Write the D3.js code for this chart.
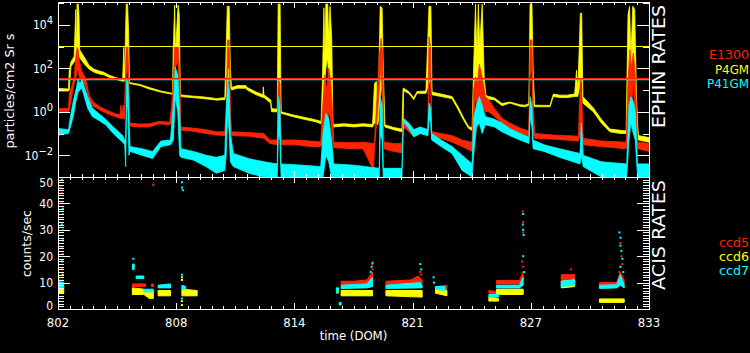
<!DOCTYPE html>
<html>
<head>
<meta charset="utf-8">
<script src="https://cdn.jsdelivr.net/npm/d3@7"></script>
<style>
body {margin: 0; background: #000;}
svg {display: block; background: #000;}
text {font-family: "DejaVu Sans Condensed", "DejaVu Sans", sans-serif; font-weight: 200; fill: #fff;}
</style>
</head>
<body>
<svg class="chart"></svg>
<script>

// EPHIN rates, [day, low, high] of the noisy band
var p4gm = [
  [802.0, 9, 12], [802.55, 9, 11], [802.59, 10, 80], [802.68, 120, 200], [802.85, 200, 350],
  [802.93, 250, 5e4], [802.97, 250, 400], [803.0, 400, 9e4], [803.06, 400, 9e4], [803.1, 300, 3e4], [803.14, 300, 700],
  [803.4, 150, 300], [803.64, 90, 130], [803.9, 65, 90], [804.17, 55, 75], [804.4, 50, 65],
  [804.69, 38, 48], [805.0, 32, 38], [805.39, 25, 29], [805.45, 26, 900], [805.48, 25, 29],
  [805.58, 100, 9e4], [805.65, 300, 9e4], [805.7, 50, 5000], [805.75, 20, 22], [806.3, 16, 18],
  [806.79, 11, 13], [807.4, 8, 9], [808.0, 6.3, 7], [808.05, 8, 1000], [808.12, 500, 8e4],
  [808.16, 200, 500], [808.3, 300, 8e4], [808.36, 50, 3e4], [808.42, 5, 6], [809.0, 4.5, 5.3], [809.66, 4, 4.8],
  [810.36, 3.4, 4], [810.45, 3.5, 4.2], [810.75, 3.6, 4.4], [810.88, 20, 7e4], [810.98, 30, 7e4],
  [811.04, 14, 100], [811.1, 10, 13], [811.41, 12, 16], [811.85, 12, 16], [811.93, 10, 13],
  [812.4, 6, 8], [812.75, 4.5, 6], [812.77, 4.5, 14], [812.8, 4.5, 6], [813.16, 2.5, 3.5],
  [813.2, 1.0, 1.4], [813.5, 1.0, 1.3], [813.55, 10, 9e4], [813.65, 30, 9e4], [813.7, 0.85, 1.0],
  [814.3, 0.6, 0.72], [814.9, 0.45, 0.56], [815.5, 0.35, 0.43], [815.8, 0.28, 0.36], [815.87, 1, 30],
  [815.95, 30, 6e4], [816.0, 10, 300], [816.05, 100, 9e4], [816.15, 300, 9e4], [816.2, 20, 2000], [816.27, 50, 7e4],
  [816.36, 2, 2000], [816.42, 0.2, 0.26], [817.0, 0.22, 0.28], [817.53, 0.2, 0.26], [818.0, 0.22, 0.28],
  [818.5, 0.2, 0.26], [818.6, 0.3, 20], [818.7, 0.3, 25], [818.78, 0.25, 0.35], [818.9, 5, 7e4], [819.0, 20, 6e4],
  [819.06, 0.3, 100], [819.15, 0.2, 0.25], [819.6, 0.15, 0.19], [820.04, 0.12, 0.16], [820.1, 0.15, 12],
  [820.13, 9, 12], [820.4, 7, 8.5], [820.66, 3.6, 4.4], [820.83, 7, 8.5], [821.3, 7, 9],
  [821.46, 20, 7e4], [821.56, 30, 7e4], [821.62, 6, 8], [822.1, 5, 6.5], [822.67, 4, 5],
  [823.0, 1.2, 1.6], [823.3, 0.38, 0.48], [823.54, 0.17, 0.21], [823.72, 0.14, 0.18], [823.8, 1, 100],
  [823.9, 30, 9e4], [823.97, 20, 400], [824.05, 30, 9e4], [824.12, 20, 1000], [824.25, 30, 9e4],
  [824.36, 15, 30], [824.45, 4, 5.5], [824.9, 3.5, 4.3], [825.29, 1.9, 2.4], [825.7, 2.5, 2.8],
  [826.23, 1.8, 2.1], [826.5, 1.7, 2.0], [826.7, 2, 2.4], [826.76, 100, 9e4], [826.86, 300, 9e4],
  [826.92, 2, 100], [827.0, 1.7, 2.0], [827.81, 1.7, 1.95], [827.98, 5, 6.5], [828.33, 4.5, 5.8],
  [828.7, 4.5, 5.8], [829.1, 5, 6.5], [829.2, 5, 80], [829.26, 5, 6.5], [829.4, 20, 3.4e4],
  [829.47, 50, 3.4e4], [829.53, 2.5, 5], [830.08, 1.0, 1.5], [830.5, 0.3, 0.45], [830.95, 0.12, 0.16],
  [831.5, 0.1, 0.14], [831.8, 0.1, 0.13], [831.9, 1, 3e4], [831.98, 30, 7e4], [832.05, 10, 300],
  [832.15, 50, 7e4], [832.25, 30, 5e4], [832.35, 0.5, 3], [832.44, 0.05, 0.08], [833.0, 0.04, 0.065]
];

var e1300 = [
  [802.0, 1.0, 1.4], [802.55, 1.0, 1.4], [802.6, 1.2, 7], [802.75, 7, 18], [802.85, 20, 40],
  [802.93, 30, 300], [803.0, 100, 900], [803.06, 60, 700], [803.12, 40, 200], [803.25, 25, 70],
  [803.45, 15, 35], [803.64, 3, 5.5], [803.85, 1.8, 2.8], [804.2, 1.2, 1.7], [804.6, 0.8, 1.15],
  [805.0, 0.6, 0.82], [805.25, 0.5, 0.72], [805.3, 0.5, 2.0], [805.35, 0.5, 0.7], [805.42, 0.5, 2.0],
  [805.48, 0.45, 0.68], [805.58, 50, 1000], [805.66, 100, 1000], [805.72, 0.5, 30], [805.78, 0.22, 0.3],
  [806.3, 0.2, 0.27], [806.79, 0.2, 0.28], [807.3, 0.28, 0.36], [807.85, 0.25, 0.33], [807.95, 0.3, 1.5],
  [808.05, 1, 30], [808.12, 100, 1000], [808.3, 200, 1000], [808.38, 1, 100], [808.45, 0.14, 0.2],
  [809.0, 0.13, 0.18], [809.76, 0.1, 0.15], [810.3, 0.085, 0.12], [810.75, 0.08, 0.12], [810.82, 0.08, 1],
  [810.9, 100, 2000], [810.98, 100, 2000], [811.04, 0.1, 2], [811.1, 0.08, 0.12], [812.0, 0.075, 0.11],
  [812.8, 0.06, 0.1], [813.1, 0.035, 0.05], [813.5, 0.03, 0.05], [813.56, 5, 30], [813.64, 1, 20],
  [813.7, 0.03, 0.05], [814.5, 0.03, 0.05], [815.2, 0.025, 0.045], [815.78, 0.025, 0.042], [815.87, 0.03, 1],
  [816.0, 1, 50], [816.1, 0.1, 10], [816.2, 1, 100], [816.3, 0.5, 30], [816.4, 0.05, 1],
  [816.46, 0.022, 0.04], [817.53, 0.02, 0.038], [818.0, 0.02, 0.04], [818.55, 0.002, 0.035], [818.6, 0.02, 0.04],
  [818.85, 10, 300], [818.95, 200, 2400], [819.03, 1, 500], [819.1, 0.02, 0.04], [819.6, 0.015, 0.035],
  [820.04, 0.013, 0.035], [820.1, 0.2, 0.4], [820.3, 0.15, 0.3], [820.66, 0.07, 0.12], [821.0, 0.1, 0.17],
  [821.4, 0.08, 0.15], [821.46, 50, 2800], [821.54, 30, 1000], [821.6, 0.07, 0.12], [822.1, 0.06, 0.1],
  [822.67, 0.04, 0.08], [823.2, 0.025, 0.05], [823.72, 0.015, 0.04], [823.8, 0.5, 10], [823.9, 5, 40],
  [824.0, 1, 20], [824.1, 3, 150], [824.25, 2, 40], [824.41, 1, 5], [824.6, 1, 3.5],
  [824.9, 0.6, 1.4], [825.29, 0.3, 0.5], [825.7, 0.17, 0.3], [826.23, 0.1, 0.18], [826.7, 0.08, 0.13],
  [826.76, 50, 2000], [826.86, 100, 2000], [826.92, 0.1, 5], [827.0, 0.06, 0.1], [828.0, 0.055, 0.085],
  [829.3, 0.045, 0.075], [829.4, 0.1, 29], [829.48, 0.05, 3], [829.55, 0.03, 0.06], [830.5, 0.025, 0.045],
  [831.8, 0.02, 0.04], [831.9, 0.1, 30], [832.0, 20, 700], [832.08, 1, 100], [832.18, 30, 500],
  [832.28, 0.3, 50], [832.4, 0.02, 0.04], [833.0, 0.015, 0.035]
];

var p41gm = [
  [802.0, 0.085, 0.17], [802.55, 0.1, 0.15], [802.65, 0.2, 0.6], [802.8, 0.6, 3], [802.94, 3, 10],
  [803.05, 8, 29], [803.15, 10, 20], [803.25, 12, 29], [803.38, 5, 14], [803.55, 1.5, 5],
  [803.8, 0.6, 1.5], [804.15, 0.4, 0.8], [804.5, 0.25, 0.45], [804.9, 0.1, 0.2], [805.39, 0.04, 0.08],
  [805.5, 0.03, 0.05], [805.55, 0.003, 0.05], [805.6, 5, 29], [805.67, 1, 25], [805.72, 0.01, 0.5],
  [805.78, 0.015, 0.025], [806.4, 0.01, 0.02], [806.96, 0.007, 0.015], [807.4, 0.025, 0.045], [807.9, 0.03, 0.05],
  [808.05, 0.05, 2], [808.15, 5, 117], [808.28, 1, 50], [808.38, 0.01, 1], [808.45, 0.008, 0.02],
  [809.1, 0.006, 0.015], [809.76, 0.003, 0.01], [810.3, 0.0015, 0.008], [810.75, 0.002, 0.01], [810.82, 0.01, 1],
  [810.9, 1, 29], [810.98, 0.1, 10], [811.04, 0.005, 0.1], [811.2, 0.003, 0.012], [812.0, 0.0015, 0.007],
  [812.8, 0.001, 0.005], [813.5, 0.001, 0.004], [813.56, 0.1, 4.9], [813.64, 0.05, 2], [813.7, 0.001, 0.004],
  [814.8, 0.001, 0.0035], [815.78, 0.001, 0.003], [815.9, 0.001, 0.1], [816.05, 0.01, 0.85], [816.2, 0.005, 0.5],
  [816.35, 0.001, 0.05], [816.46, 0.001, 0.004], [817.53, 0.001, 0.0035], [818.85, 0.001, 0.0025], [818.9, 0.1, 4.9],
  [819.0, 0.05, 2], [819.06, 0.001, 0.0025], [820.04, 0.001, 0.0025], [820.12, 0.35, 0.5], [820.4, 0.17, 0.3],
  [820.66, 0.07, 0.15], [821.0, 0.1, 0.2], [821.4, 0.08, 0.15], [821.47, 0.5, 2.5], [821.55, 0.3, 1.5],
  [821.6, 0.05, 0.1], [822.1, 0.025, 0.05], [822.67, 0.012, 0.025], [823.2, 0.002, 0.01], [823.72, 0.001, 0.004],
  [823.8, 0.01, 0.5], [823.95, 0.2, 2], [824.1, 0.3, 4.9], [824.25, 0.1, 2], [824.41, 0.25, 0.6],
  [824.9, 0.2, 0.45], [825.29, 0.12, 0.3], [825.7, 0.08, 0.17], [826.23, 0.05, 0.1], [826.7, 0.035, 0.07],
  [826.77, 0.5, 4.9], [826.86, 0.2, 2], [826.92, 0.02, 0.05], [827.5, 0.015, 0.03], [828.3, 0.008, 0.02],
  [829.38, 0.004, 0.012], [829.45, 0.01, 0.3], [829.55, 0.003, 0.01], [830.5, 0.001, 0.005], [831.83, 0.001, 0.004],
  [831.95, 0.05, 2], [832.05, 0.3, 4.9], [832.18, 0.1, 3], [832.28, 0.05, 1], [832.4, 0.001, 0.004],
  [833.0, 0.001, 0.004]
];

var p4gmLimit = 1000, e1300Limit = 33, p41gmLimit = 30;

// ACIS rates, segments of [day, low, high]
var ccd5 = [
  [[802.0, 9.5, 11], [802.25, 9.5, 11]],
  [[805.9, 8.5, 9.5], [806.6, 8.5, 9.5]],
  [[806.9, 8.5, 9.5], [807.0, 8.5, 9.5]],
  [[816.85, 9, 10.5], [817.5, 9.2, 10.5], [818.2, 9.5, 11], [818.4, 10, 13], [818.5, 11, 14]],
  [[819.2, 9.2, 10.5], [820.5, 9.5, 11], [820.9, 10, 12.5], [821.1, 9.5, 11]],
  [[821.8, 7.5, 8.5], [822.4, 7.5, 9]],
  [[824.6, 6, 7], [825.1, 5.5, 6.5]],
  [[825.0, 9.5, 10.8], [826.2, 9.5, 10.8], [826.4, 11, 14]],
  [[828.4, 10.5, 13], [829.1, 10.5, 13]],
  [[830.4, 8.8, 10], [831.3, 8.8, 10], [831.5, 10, 14], [831.7, 9, 11]]
];
var ccd6 = [
  [[802.0, 6, 8], [802.3, 6, 8.5]],
  [[805.9, 5.5, 8], [806.5, 5.5, 7.5], [806.8, 4, 6.5], [807.0, 4, 7]],
  [[807.25, 5, 7], [807.9, 5, 7]],
  [[808.5, 5, 7.5], [809.3, 5, 7]],
  [[816.65, 6, 8], [816.7, 6, 8]],
  [[816.85, 5, 7], [818.5, 5, 7]],
  [[819.2, 5, 7], [821.1, 4.5, 7]],
  [[821.8, 6, 8], [822.4, 5, 7]],
  [[824.6, 3, 4.5], [825.1, 3, 4]],
  [[825.0, 5.5, 7.5], [826.4, 5.5, 7.5]],
  [[828.4, 8, 10.5], [829.1, 8.5, 11]],
  [[830.4, 2.5, 3.8], [831.7, 2.5, 3.8]]
];
var ccd7 = [
  [[802.0, 8, 10], [802.3, 8, 10]],
  [[805.9, 15, 17], [806.0, 15, 17]],
  [[806.1, 11.5, 12.5], [806.5, 11.5, 12.5]],
  [[806.5, 6.5, 7.5], [807.0, 6.5, 7.5]],
  [[807.25, 8, 9], [807.9, 8, 9.5]],
  [[808.5, 7.5, 9], [808.7, 7.5, 8.5]],
  [[816.6, 6, 8], [816.7, 6.5, 8]],
  [[816.75, 1.5, 2.5], [816.85, 1.5, 2.5]],
  [[816.85, 7.8, 9], [818.2, 8, 9.5], [818.5, 8.5, 12]],
  [[819.2, 7.8, 9], [821.0, 8, 10], [821.1, 8, 9]],
  [[821.8, 7.5, 8.5], [822.3, 7, 8.5]],
  [[824.6, 4.5, 5.5], [825.1, 4.5, 5.5]],
  [[825.0, 8, 9], [826.2, 8, 9], [826.4, 9, 12]],
  [[828.4, 8.5, 10.5], [829.1, 9, 11]],
  [[830.4, 7.8, 9], [831.3, 8, 9.2], [831.5, 9, 13], [831.7, 8, 9]]
];

// isolated ACIS points [day, value]
var ccd5Dots = [[802.15, 46], [802.2, 44], [802.2, 40], [802.25, 36], [802.25, 30], [802.2, 23], [802.25, 21],
  [802.2, 15], [807.0, 47], [818.48, 17], [818.5, 15], [821.0, 14], [821.05, 13], [826.38, 37], [826.4, 33],
  [826.4, 29], [826.35, 18], [826.4, 16], [828.9, 15], [831.5, 25], [831.55, 20], [831.6, 17], [831.45, 14]];
var ccd6Dots = [[802.25, 13], [808.5, 12], [808.5, 11], [808.5, 3], [808.5, 1.5]];
var ccd7Dots = [[802.2, 49], [802.25, 38], [802.2, 32], [802.25, 26], [802.2, 18], [805.95, 19], [808.5, 48],
  [808.5, 46], [808.55, 45], [808.5, 13], [808.5, 4], [818.4, 14], [818.45, 16], [818.5, 17.5], [821.0, 17],
  [821.05, 15], [821.7, 12], [821.72, 10], [826.4, 36], [826.38, 32], [826.4, 30], [826.42, 28], [826.4, 20],
  [826.45, 14], [831.45, 29], [831.5, 27], [831.5, 24], [831.55, 22], [831.6, 19], [831.5, 16], [831.65, 14]];

var xMajor = [802, 808.2, 814.4, 820.6, 826.8, 833];
var xLabels = ["802", "808", "814", "821", "827", "833"];
var decades = [1e-3, 1e-2, 1e-1, 1, 10, 100, 1e3, 1e4, 1e5];
var decadeLabels = [[1e-2, "\u22122"], [1, "0"], [100, "2"], [1e4, "4"]];
var countTicks = [0, 10, 20, 30, 40, 50];

(function show() {
    'use strict';
    var red = "#ff2400", yellow = "#ffff00", cyan = "#00ffff";
    var svg = d3.select(".chart").attr("width", 750).attr("height", 353);

    var x = d3.scaleLinear().domain([802, 833]).range([58, 649]);
    var yTop = d3.scaleLog().domain([1e-3, 1e5]).range([177, 3]);
    var yBot = d3.scaleLinear().domain([0, 50]).range([309, 177]);

    var xMinor = d3.range(0, 51).map(function(i) {return 802 + i * 0.62});

    var defs = svg.append("defs");
    defs.append("clipPath").attr("id", "clip-top").append("rect")
        .attr("x", 58).attr("y", 2).attr("width", 591).attr("height", 175);
    defs.append("clipPath").attr("id", "clip-bot").append("rect")
        .attr("x", 58).attr("y", 177).attr("width", 591).attr("height", 132);

    // EPHIN panel
    var top = svg.append("g").attr("clip-path", "url(#clip-top)");
    var band = d3.area()
        .x(function(d) {return x(d[0])})
        .y0(function(d) {return yTop(d[1])})
        .y1(function(d) {return yTop(d[2])});
    [[p4gm, yellow], [e1300, red], [p41gm, cyan]].forEach(function(s) {
        top.append("path").attr("d", band(s[0]))
            .attr("fill", s[1]).attr("stroke", s[1])
            .attr("stroke-width", 0.8).attr("stroke-linejoin", "bevel");
    });
    [[p4gmLimit, yellow, 1.2], [p41gmLimit, cyan, 1.2], [e1300Limit, red, 1.5]].forEach(function(l) {
        top.append("line").attr("x1", 58).attr("x2", 649)
            .attr("y1", yTop(l[0])).attr("y2", yTop(l[0]))
            .attr("stroke", l[1]).attr("stroke-width", l[2]);
    });

    // ACIS panel
    var bot = svg.append("g").attr("clip-path", "url(#clip-bot)");
    var bandB = d3.area()
        .x(function(d) {return x(d[0])})
        .y0(function(d) {return yBot(d[1])})
        .y1(function(d) {return yBot(d[2])});
    [[ccd5, ccd5Dots, red], [ccd6, ccd6Dots, yellow], [ccd7, ccd7Dots, cyan]].forEach(function(s) {
        s[0].forEach(function(seg) {
            bot.append("path").attr("d", bandB(seg))
                .attr("fill", s[2]).attr("stroke", s[2]).attr("stroke-width", 1);
        });
        bot.selectAll(null).data(s[1]).enter().append("rect")
            .attr("x", function(d) {return x(d[0]) - 1})
            .attr("y", function(d) {return yBot(d[1]) - 1})
            .attr("width", 2).attr("height", 2)
            .attr("fill", s[2]);
    });

    // frames and ticks
    var axes = svg.append("g").attr("shape-rendering", "crispEdges");
    axes.append("rect").attr("x", 58).attr("y", 2).attr("width", 591).attr("height", 175)
        .attr("fill", "none").attr("stroke", "#fff");
    axes.append("rect").attr("x", 58).attr("y", 177).attr("width", 591).attr("height", 132)
        .attr("fill", "none").attr("stroke", "#fff");

    function ticks(axis, tx, ty) {
        var g = axes.append("g").attr("transform", "translate(" + tx + "," + ty + ")").call(axis);
        g.select(".domain").remove();
        g.selectAll("line").attr("stroke", "#fff");
        g.selectAll("text").remove();
    }
    [[d3.axisTop, 2], [d3.axisBottom, 177], [d3.axisTop, 177], [d3.axisBottom, 309]].forEach(function(a) {
        ticks(a[0](x).tickValues(xMinor).tickSize(-3), 0, a[1]);
        ticks(a[0](x).tickValues(xMajor).tickSize(-6), 0, a[1]);
    });
    var evenDec = decades.filter(function(d, i) {return i % 2 === 1});
    var oddDec = decades.filter(function(d, i) {return i % 2 === 0});
    ticks(d3.axisLeft(yTop).tickValues(evenDec).tickSize(-12), 58, 0);
    ticks(d3.axisLeft(yTop).tickValues(oddDec).tickSize(-6), 58, 0);
    ticks(d3.axisRight(yTop).tickValues(evenDec).tickSize(-12), 649, 0);
    ticks(d3.axisRight(yTop).tickValues(oddDec).tickSize(-6), 649, 0);
    var unitTicks = d3.range(0, 51);
    ticks(d3.axisLeft(yBot).tickValues(unitTicks).tickSize(-6), 58, 0);
    ticks(d3.axisLeft(yBot).tickValues(countTicks).tickSize(-12), 58, 0);
    ticks(d3.axisRight(yBot).tickValues(unitTicks).tickSize(-6), 649, 0);
    ticks(d3.axisRight(yBot).tickValues(countTicks).tickSize(-12), 649, 0);

    // tick labels
    svg.selectAll(".xl").data(xMajor).enter().append("text")
        .attr("x", function(d) {return x(d)}).attr("y", 327)
        .attr("text-anchor", "middle").attr("font-size", 13)
        .text(function(d, i) {return xLabels[i]});

    decadeLabels.forEach(function(d) {
        var t = svg.append("text").attr("x", 53).attr("y", yTop(d[0]) + 4.5)
            .attr("text-anchor", "end").attr("font-size", 12);
        t.append("tspan").text("10");
        t.append("tspan").attr("dy", -5).attr("font-size", 11).text(d[1]);
    });

    var nudge = {0: -4, 50: 5};
    svg.selectAll(".yl").data(countTicks).enter().append("text")
        .attr("x", 53).attr("y", function(d) {return yBot(d) + 4.5 + (nudge[d] || 0)})
        .attr("text-anchor", "end").attr("font-size", 12)
        .text(function(d) {return d});

    // titles
    svg.append("text").attr("transform", "translate(14,91) rotate(-90)")
        .attr("text-anchor", "middle").attr("font-size", 12)
        .attr("textLength", 115).attr("lengthAdjust", "spacingAndGlyphs")
        .text("particles/cm2 Sr s");
    svg.append("text").attr("transform", "translate(31,243.5) rotate(-90)")
        .attr("text-anchor", "middle").attr("font-size", 12)
        .attr("textLength", 67).attr("lengthAdjust", "spacingAndGlyphs")
        .text("counts/sec");
    svg.append("text").attr("x", 353.5).attr("y", 340)
        .attr("text-anchor", "middle").attr("font-size", 13)
        .text("time (DOM)");
    svg.append("text").attr("transform", "translate(665,66.5) rotate(-90)")
        .attr("text-anchor", "middle").attr("font-size", 18)
        .attr("textLength", 123).attr("lengthAdjust", "spacingAndGlyphs")
        .text("EPHIN RATES");
    svg.append("text").attr("transform", "translate(665,235) rotate(-90)")
        .attr("text-anchor", "middle").attr("font-size", 18)
        .attr("textLength", 110).attr("lengthAdjust", "spacingAndGlyphs")
        .text("ACIS RATES");

    // legends
    [["E1300", red, 59, 40], ["P4GM", yellow, 73.5, 34], ["P41GM", cyan, 88, 42],
     ["ccd5", red, 247, 30], ["ccd6", yellow, 261, 30], ["ccd7", cyan, 275, 30]].forEach(function(l) {
        svg.append("text").attr("x", 749).attr("y", l[2])
            .attr("text-anchor", "end").attr("font-size", 13)
            .attr("textLength", l[3]).attr("lengthAdjust", "spacingAndGlyphs")
            .style("fill", l[1]).text(l[0]);
    });
})();
</script>
</body>
</html>
